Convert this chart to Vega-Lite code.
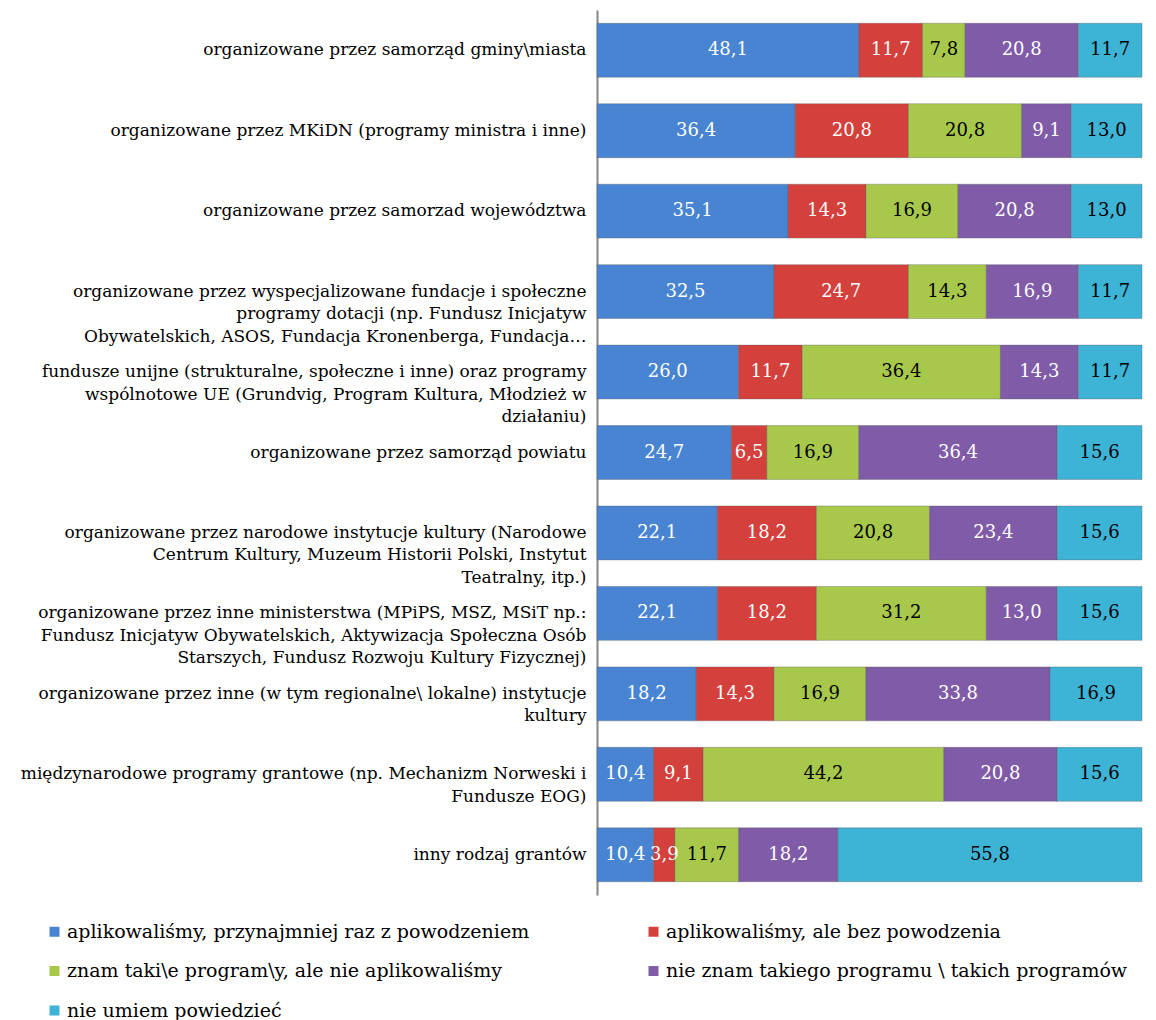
{
  "$schema": "https://vega.github.io/schema/vega-lite/v6.json",
  "width": 545,
  "height": 885,
  "autosize": {"type": "none"},
  "padding": {"left": 597, "top": 10, "right": 14, "bottom": 125},
  "background": "white",
  "config": {
    "locale": {"number": {"decimal": ",", "thousands": " ", "grouping": [3], "currency": ["", " zł"]}},
    "view": {"stroke": null},
    "font": "DejaVu Serif"
  },
  "data": {"values": [
    {"cat": "organizowane przez samorząd gminy\\miasta", "series": "aplikowaliśmy, przynajmniej raz z powodzeniem", "n": 1, "value": 48.1},
    {"cat": "organizowane przez samorząd gminy\\miasta", "series": "aplikowaliśmy, ale bez powodzenia", "n": 2, "value": 11.7},
    {"cat": "organizowane przez samorząd gminy\\miasta", "series": "znam taki\\e program\\y, ale nie aplikowaliśmy", "n": 3, "value": 7.8},
    {"cat": "organizowane przez samorząd gminy\\miasta", "series": "nie znam takiego programu \\ takich programów", "n": 4, "value": 20.8},
    {"cat": "organizowane przez samorząd gminy\\miasta", "series": "nie umiem powiedzieć", "n": 5, "value": 11.7},

    {"cat": "organizowane przez MKiDN (programy ministra i inne)", "series": "aplikowaliśmy, przynajmniej raz z powodzeniem", "n": 1, "value": 36.4},
    {"cat": "organizowane przez MKiDN (programy ministra i inne)", "series": "aplikowaliśmy, ale bez powodzenia", "n": 2, "value": 20.8},
    {"cat": "organizowane przez MKiDN (programy ministra i inne)", "series": "znam taki\\e program\\y, ale nie aplikowaliśmy", "n": 3, "value": 20.8},
    {"cat": "organizowane przez MKiDN (programy ministra i inne)", "series": "nie znam takiego programu \\ takich programów", "n": 4, "value": 9.1},
    {"cat": "organizowane przez MKiDN (programy ministra i inne)", "series": "nie umiem powiedzieć", "n": 5, "value": 13.0},

    {"cat": "organizowane przez samorzad województwa", "series": "aplikowaliśmy, przynajmniej raz z powodzeniem", "n": 1, "value": 35.1},
    {"cat": "organizowane przez samorzad województwa", "series": "aplikowaliśmy, ale bez powodzenia", "n": 2, "value": 14.3},
    {"cat": "organizowane przez samorzad województwa", "series": "znam taki\\e program\\y, ale nie aplikowaliśmy", "n": 3, "value": 16.9},
    {"cat": "organizowane przez samorzad województwa", "series": "nie znam takiego programu \\ takich programów", "n": 4, "value": 20.8},
    {"cat": "organizowane przez samorzad województwa", "series": "nie umiem powiedzieć", "n": 5, "value": 13.0},

    {"cat": "organizowane przez wyspecjalizowane fundacje i społeczne|programy dotacji (np. Fundusz Inicjatyw|Obywatelskich, ASOS, Fundacja Kronenberga, Fundacja…", "series": "aplikowaliśmy, przynajmniej raz z powodzeniem", "n": 1, "value": 32.5},
    {"cat": "organizowane przez wyspecjalizowane fundacje i społeczne|programy dotacji (np. Fundusz Inicjatyw|Obywatelskich, ASOS, Fundacja Kronenberga, Fundacja…", "series": "aplikowaliśmy, ale bez powodzenia", "n": 2, "value": 24.7},
    {"cat": "organizowane przez wyspecjalizowane fundacje i społeczne|programy dotacji (np. Fundusz Inicjatyw|Obywatelskich, ASOS, Fundacja Kronenberga, Fundacja…", "series": "znam taki\\e program\\y, ale nie aplikowaliśmy", "n": 3, "value": 14.3},
    {"cat": "organizowane przez wyspecjalizowane fundacje i społeczne|programy dotacji (np. Fundusz Inicjatyw|Obywatelskich, ASOS, Fundacja Kronenberga, Fundacja…", "series": "nie znam takiego programu \\ takich programów", "n": 4, "value": 16.9},
    {"cat": "organizowane przez wyspecjalizowane fundacje i społeczne|programy dotacji (np. Fundusz Inicjatyw|Obywatelskich, ASOS, Fundacja Kronenberga, Fundacja…", "series": "nie umiem powiedzieć", "n": 5, "value": 11.7},

    {"cat": "fundusze unijne (strukturalne, społeczne i inne) oraz programy|wspólnotowe UE (Grundvig, Program Kultura, Młodzież w|działaniu)", "series": "aplikowaliśmy, przynajmniej raz z powodzeniem", "n": 1, "value": 26.0},
    {"cat": "fundusze unijne (strukturalne, społeczne i inne) oraz programy|wspólnotowe UE (Grundvig, Program Kultura, Młodzież w|działaniu)", "series": "aplikowaliśmy, ale bez powodzenia", "n": 2, "value": 11.7},
    {"cat": "fundusze unijne (strukturalne, społeczne i inne) oraz programy|wspólnotowe UE (Grundvig, Program Kultura, Młodzież w|działaniu)", "series": "znam taki\\e program\\y, ale nie aplikowaliśmy", "n": 3, "value": 36.4},
    {"cat": "fundusze unijne (strukturalne, społeczne i inne) oraz programy|wspólnotowe UE (Grundvig, Program Kultura, Młodzież w|działaniu)", "series": "nie znam takiego programu \\ takich programów", "n": 4, "value": 14.3},
    {"cat": "fundusze unijne (strukturalne, społeczne i inne) oraz programy|wspólnotowe UE (Grundvig, Program Kultura, Młodzież w|działaniu)", "series": "nie umiem powiedzieć", "n": 5, "value": 11.7},

    {"cat": "organizowane przez samorząd powiatu", "series": "aplikowaliśmy, przynajmniej raz z powodzeniem", "n": 1, "value": 24.7},
    {"cat": "organizowane przez samorząd powiatu", "series": "aplikowaliśmy, ale bez powodzenia", "n": 2, "value": 6.5},
    {"cat": "organizowane przez samorząd powiatu", "series": "znam taki\\e program\\y, ale nie aplikowaliśmy", "n": 3, "value": 16.9},
    {"cat": "organizowane przez samorząd powiatu", "series": "nie znam takiego programu \\ takich programów", "n": 4, "value": 36.4},
    {"cat": "organizowane przez samorząd powiatu", "series": "nie umiem powiedzieć", "n": 5, "value": 15.6},

    {"cat": "organizowane przez narodowe instytucje kultury (Narodowe|Centrum Kultury, Muzeum Historii Polski, Instytut|Teatralny, itp.)", "series": "aplikowaliśmy, przynajmniej raz z powodzeniem", "n": 1, "value": 22.1},
    {"cat": "organizowane przez narodowe instytucje kultury (Narodowe|Centrum Kultury, Muzeum Historii Polski, Instytut|Teatralny, itp.)", "series": "aplikowaliśmy, ale bez powodzenia", "n": 2, "value": 18.2},
    {"cat": "organizowane przez narodowe instytucje kultury (Narodowe|Centrum Kultury, Muzeum Historii Polski, Instytut|Teatralny, itp.)", "series": "znam taki\\e program\\y, ale nie aplikowaliśmy", "n": 3, "value": 20.8},
    {"cat": "organizowane przez narodowe instytucje kultury (Narodowe|Centrum Kultury, Muzeum Historii Polski, Instytut|Teatralny, itp.)", "series": "nie znam takiego programu \\ takich programów", "n": 4, "value": 23.4},
    {"cat": "organizowane przez narodowe instytucje kultury (Narodowe|Centrum Kultury, Muzeum Historii Polski, Instytut|Teatralny, itp.)", "series": "nie umiem powiedzieć", "n": 5, "value": 15.6},

    {"cat": "organizowane przez inne ministerstwa (MPiPS, MSZ, MSiT np.:|Fundusz Inicjatyw Obywatelskich, Aktywizacja Społeczna Osób|Starszych, Fundusz Rozwoju Kultury Fizycznej)", "series": "aplikowaliśmy, przynajmniej raz z powodzeniem", "n": 1, "value": 22.1},
    {"cat": "organizowane przez inne ministerstwa (MPiPS, MSZ, MSiT np.:|Fundusz Inicjatyw Obywatelskich, Aktywizacja Społeczna Osób|Starszych, Fundusz Rozwoju Kultury Fizycznej)", "series": "aplikowaliśmy, ale bez powodzenia", "n": 2, "value": 18.2},
    {"cat": "organizowane przez inne ministerstwa (MPiPS, MSZ, MSiT np.:|Fundusz Inicjatyw Obywatelskich, Aktywizacja Społeczna Osób|Starszych, Fundusz Rozwoju Kultury Fizycznej)", "series": "znam taki\\e program\\y, ale nie aplikowaliśmy", "n": 3, "value": 31.2},
    {"cat": "organizowane przez inne ministerstwa (MPiPS, MSZ, MSiT np.:|Fundusz Inicjatyw Obywatelskich, Aktywizacja Społeczna Osób|Starszych, Fundusz Rozwoju Kultury Fizycznej)", "series": "nie znam takiego programu \\ takich programów", "n": 4, "value": 13.0},
    {"cat": "organizowane przez inne ministerstwa (MPiPS, MSZ, MSiT np.:|Fundusz Inicjatyw Obywatelskich, Aktywizacja Społeczna Osób|Starszych, Fundusz Rozwoju Kultury Fizycznej)", "series": "nie umiem powiedzieć", "n": 5, "value": 15.6},

    {"cat": "organizowane przez inne (w tym regionalne\\ lokalne) instytucje|kultury", "series": "aplikowaliśmy, przynajmniej raz z powodzeniem", "n": 1, "value": 18.2},
    {"cat": "organizowane przez inne (w tym regionalne\\ lokalne) instytucje|kultury", "series": "aplikowaliśmy, ale bez powodzenia", "n": 2, "value": 14.3},
    {"cat": "organizowane przez inne (w tym regionalne\\ lokalne) instytucje|kultury", "series": "znam taki\\e program\\y, ale nie aplikowaliśmy", "n": 3, "value": 16.9},
    {"cat": "organizowane przez inne (w tym regionalne\\ lokalne) instytucje|kultury", "series": "nie znam takiego programu \\ takich programów", "n": 4, "value": 33.8},
    {"cat": "organizowane przez inne (w tym regionalne\\ lokalne) instytucje|kultury", "series": "nie umiem powiedzieć", "n": 5, "value": 16.9},

    {"cat": "międzynarodowe programy grantowe (np. Mechanizm Norweski i|Fundusze EOG)", "series": "aplikowaliśmy, przynajmniej raz z powodzeniem", "n": 1, "value": 10.4},
    {"cat": "międzynarodowe programy grantowe (np. Mechanizm Norweski i|Fundusze EOG)", "series": "aplikowaliśmy, ale bez powodzenia", "n": 2, "value": 9.1},
    {"cat": "międzynarodowe programy grantowe (np. Mechanizm Norweski i|Fundusze EOG)", "series": "znam taki\\e program\\y, ale nie aplikowaliśmy", "n": 3, "value": 44.2},
    {"cat": "międzynarodowe programy grantowe (np. Mechanizm Norweski i|Fundusze EOG)", "series": "nie znam takiego programu \\ takich programów", "n": 4, "value": 20.8},
    {"cat": "międzynarodowe programy grantowe (np. Mechanizm Norweski i|Fundusze EOG)", "series": "nie umiem powiedzieć", "n": 5, "value": 15.6},

    {"cat": "inny rodzaj grantów", "series": "aplikowaliśmy, przynajmniej raz z powodzeniem", "n": 1, "value": 10.4},
    {"cat": "inny rodzaj grantów", "series": "aplikowaliśmy, ale bez powodzenia", "n": 2, "value": 3.9},
    {"cat": "inny rodzaj grantów", "series": "znam taki\\e program\\y, ale nie aplikowaliśmy", "n": 3, "value": 11.7},
    {"cat": "inny rodzaj grantów", "series": "nie znam takiego programu \\ takich programów", "n": 4, "value": 18.2},
    {"cat": "inny rodzaj grantów", "series": "nie umiem powiedzieć", "n": 5, "value": 55.8}
  ]},
  "encoding": {
    "y": {
      "field": "cat", "type": "nominal", "sort": null,
      "scale": {"paddingInner": 0.33, "paddingOuter": 0.165},
      "axis": {
        "title": null,
        "labelExpr": "split(datum.label, '|')",
        "labelFont": "DejaVu Serif",
        "labelFontSize": 17,
        "labelColor": "#000000",
        "labelLineHeight": 22.5,
        "labelLimit": 600,
        "labelPadding": 11,
        "ticks": false,
        "domainColor": "#868686",
        "domainWidth": 2,
        "grid": false
      }
    },
    "x": {
      "field": "value", "type": "quantitative", "stack": "normalize",
      "scale": {"domain": [0, 1], "nice": false},
      "axis": null
    },
    "order": {"field": "n", "type": "quantitative"}
  },
  "layer": [
    {
      "mark": {"type": "bar", "stroke": "#5a5a5a", "strokeOpacity": 0.35, "strokeWidth": 1},
      "encoding": {
        "color": {
          "field": "series", "type": "nominal",
          "scale": {
            "domain": ["aplikowaliśmy, przynajmniej raz z powodzeniem", "aplikowaliśmy, ale bez powodzenia", "znam taki\\e program\\y, ale nie aplikowaliśmy", "nie znam takiego programu \\ takich programów", "nie umiem powiedzieć"],
            "range": ["#4884D2", "#D4403B", "#A8C84B", "#7F5BA8", "#3DB3D6"]
          },
          "legend": {
            "title": null,
            "orient": "none",
            "legendX": -552,
            "legendY": 912,
            "direction": "horizontal",
            "columns": 2,
            "columnPadding": 114,
            "rowPadding": 19.5,
            "padding": 0,
            "symbolType": "square",
            "symbolSize": 100,
            "symbolStrokeWidth": 0,
            "labelFont": "DejaVu Serif",
            "labelFontSize": 19,
            "labelColor": "#000000",
            "labelOffset": 3,
            "labelLimit": 600
          }
        }
      }
    },
    {
      "mark": {"type": "text", "font": "DejaVu Serif", "fontSize": 18, "baseline": "middle", "align": "center"},
      "encoding": {
        "x": {"field": "value", "type": "quantitative", "stack": "normalize", "bandPosition": 0.5},
        "detail": {"field": "series"},
        "text": {"field": "value", "type": "quantitative", "format": ".1f"},
        "color": {
          "condition": {"test": "datum.n == 3 || datum.n == 5", "value": "#000000"},
          "value": "#FFFFFF"
        }
      }
    }
  ]
}
